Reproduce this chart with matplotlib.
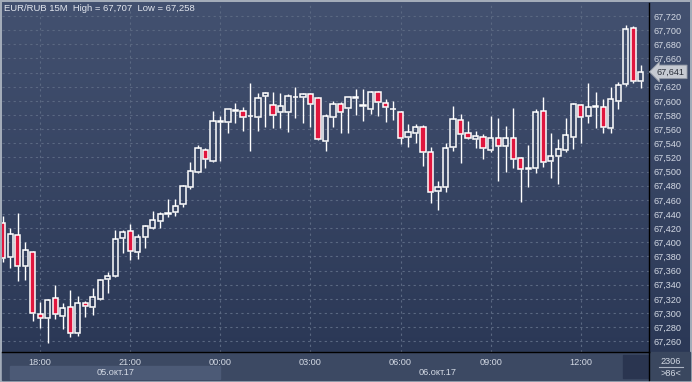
import matplotlib
matplotlib.use('Agg')
import matplotlib.pyplot as plt
import numpy as np
from matplotlib.patches import Rectangle
from matplotlib.lines import Line2D
from matplotlib.colors import LinearSegmentedColormap
from matplotlib.transforms import blended_transform_factory

# EUR/RUB 15M candles, 16:45 (05.10) .. 14:00 (06.10)
opens = [67.427, 67.379, 67.410, 67.366, 67.386, 67.299, 67.293, 67.321, 67.296, 67.308,
         67.272, 67.314, 67.308, 67.320, 67.348, 67.352, 67.406, 67.416, 67.386, 67.407,
         67.420, 67.430, 67.440, 67.443, 67.454, 67.478, 67.499, 67.530, 67.515, 67.570,
         67.570, 67.586, 67.586, 67.578, 67.577, 67.607, 67.594, 67.584, 67.584, 67.605,
         67.605, 67.610, 67.604, 67.543, 67.577, 67.596, 67.590, 67.604, 67.593, 67.588,
         67.613, 67.597, 67.588, 67.584, 67.549, 67.555, 67.563, 67.528, 67.473, 67.478,
         67.535, 67.573, 67.555, 67.546, 67.549, 67.530, 67.547, 67.536, 67.547, 67.519,
         67.504, 67.505, 67.586, 67.515, 67.522, 67.530, 67.549, 67.594, 67.579, 67.592,
         67.591, 67.562, 67.600, 67.624, 67.703, 67.628]
highs = [67.437, 67.420, 67.441, 67.400, 67.387, 67.316, 67.320, 67.340, 67.314, 67.333,
         67.324, 67.317, 67.335, 67.348, 67.358, 67.417, 67.417, 67.426, 67.412, 67.424,
         67.444, 67.443, 67.461, 67.461, 67.481, 67.514, 67.538, 67.533, 67.586, 67.579,
         67.589, 67.597, 67.591, 67.625, 67.611, 67.613, 67.613, 67.611, 67.610, 67.620,
         67.611, 67.611, 67.605, 67.581, 67.600, 67.598, 67.606, 67.617, 67.617, 67.614,
         67.614, 67.603, 67.600, 67.586, 67.567, 67.567, 67.566, 67.535, 67.487, 67.540,
         67.593, 67.581, 67.572, 67.557, 67.553, 67.579, 67.576, 67.564, 67.590, 67.520,
         67.538, 67.588, 67.605, 67.555, 67.546, 67.576, 67.597, 67.596, 67.625, 67.613,
         67.603, 67.620, 67.627, 67.707, 67.706, 67.651]
lows = [67.372, 67.364, 67.345, 67.347, 67.289, 67.279, 67.258, 67.292, 67.277, 67.266,
        67.267, 67.294, 67.297, 67.318, 67.328, 67.351, 67.385, 67.375, 67.376, 67.392,
        67.419, 67.420, 67.436, 67.437, 67.450, 67.475, 67.498, 67.505, 67.514, 67.515,
        67.555, 67.569, 67.557, 67.529, 67.557, 67.563, 67.562, 67.562, 67.556, 67.576,
        67.569, 67.563, 67.545, 67.529, 67.563, 67.555, 67.555, 67.580, 67.572, 67.581,
        67.579, 67.570, 67.573, 67.539, 67.535, 67.540, 67.508, 67.456, 67.446, 67.471,
        67.529, 67.512, 67.546, 67.533, 67.518, 67.528, 67.487, 67.499, 67.505, 67.457,
        67.478, 67.498, 67.506, 67.491, 67.482, 67.528, 67.532, 67.540, 67.569, 67.562,
        67.555, 67.555, 67.588, 67.621, 67.625, 67.618]
closes = [67.378, 67.412, 67.366, 67.389, 67.300, 67.293, 67.318, 67.299, 67.307, 67.272,
          67.314, 67.310, 67.323, 67.347, 67.352, 67.405, 67.415, 67.388, 67.407, 67.423,
          67.431, 67.440, 67.441, 67.451, 67.480, 67.501, 67.533, 67.518, 67.572, 67.571,
          67.588, 67.587, 67.577, 67.579, 67.604, 67.611, 67.580, 67.593, 67.607, 67.606,
          67.610, 67.596, 67.546, 67.579, 67.596, 67.584, 67.605, 67.605, 67.594, 67.613,
          67.598, 67.591, 67.589, 67.547, 67.556, 67.563, 67.528, 67.471, 67.478, 67.533,
          67.574, 67.553, 67.547, 67.550, 67.533, 67.547, 67.536, 67.547, 67.518, 67.504,
          67.505, 67.584, 67.514, 67.522, 67.532, 67.552, 67.596, 67.577, 67.591, 67.593,
          67.563, 67.603, 67.622, 67.702, 67.628, 67.641]

time_ticks = [5, 17, 29, 41, 53, 65, 77]
time_labels = ['18:00', '21:00', '00:00', '03:00', '06:00', '09:00', '12:00']
y_ticks = np.round(np.arange(67.26, 67.7201, 0.02), 3)
last_price = 67.641
title = 'EUR/RUB 15M  High = 67,707  Low = 67,258'

W, H = 692, 382
FONT = 'Liberation Sans'
TXT = '#d3d9e4'
RED = '#e0163e'

fig = plt.figure(figsize=(W / 100, H / 100), dpi=100, facecolor='#a3acb9')

def fx(px):
    return px / W

def fy(py):
    return 1 - py / H

# gradient background for plot + price scale
bg = fig.add_axes([fx(2), fy(352), fx(688), (352 - 2) / H])
cmap = LinearSegmentedColormap.from_list('bg', ['#435170', '#2b3856'])
bg.imshow(np.linspace(0, 1, 256).reshape(-1, 1), aspect='auto', cmap=cmap,
          extent=[0, 1, 0, 1], origin='upper')
bg.axis('off')

# bottom strips
fig.patches.append(Rectangle((fx(2), fy(380)), fx(647), 28 / H, transform=fig.transFigure,
                             color='#3c4963', zorder=0))
fig.patches.append(Rectangle((fx(10), fy(379)), fx(210), 13 / H, transform=fig.transFigure,
                             color='#4c5a76', zorder=0))
fig.patches.append(Rectangle((fx(623), fy(378)), fx(25), 23 / H, transform=fig.transFigure,
                             color='#2a3550', zorder=0))
fig.patches.append(Rectangle((fx(650), fy(380)), fx(40), 28 / H, transform=fig.transFigure,
                             color='#3a475f', zorder=0))

ax = fig.add_axes([fx(2), fy(352), fx(647), (352 - 3) / H])
ax.set_zorder(2)
ax.set_facecolor('none')
ax.set_xlim(-0.1, 86.1)
ax.set_ylim(67.2448, 67.7384)

for s in ['top', 'left']:
    ax.spines[s].set_visible(False)
for s in ['right', 'bottom']:
    ax.spines[s].set_color('black')
    ax.spines[s].set_linewidth(1)

ax.yaxis.tick_right()
ax.set_yticks(y_ticks)
ax.set_yticklabels(['' if abs(v - 67.64) < 1e-6 else f'{v:.3f}'.replace('.', ',') for v in y_ticks],
                   fontfamily=FONT)
ax.set_xticks(time_ticks)
ax.set_xticklabels(time_labels, fontfamily=FONT)
ax.tick_params(axis='y', length=0, pad=3, labelsize=6.6, labelcolor=TXT)
ax.tick_params(axis='x', length=0, pad=4, labelsize=6.6, labelcolor=TXT)
ax.grid(True, color='#5a6882', linestyle=(0, (2, 3)), linewidth=0.8)
ax.set_axisbelow(True)

# candles
for i, (o, h, l, c) in enumerate(zip(opens, highs, lows, closes)):
    up = c >= o
    top, bot = max(o, c), min(o, c)
    ax.vlines(i, top, h, color='white', lw=1, zorder=3)
    ax.vlines(i, l, bot, color='white', lw=1, zorder=3)
    ax.bar(i, max(top - bot, 0.0006), bottom=bot, width=0.7,
           facecolor='none' if up else RED, edgecolor='white', linewidth=1.1, zorder=4)

# current price tag
tr = blended_transform_factory(ax.transAxes, ax.transData)
ax.text(1.012, last_price, f'{last_price:.3f}'.replace('.', ','), transform=tr,
        ha='left', va='center', fontsize=6.6, color='#2a2f3a', fontfamily=FONT, zorder=10,
        bbox=dict(boxstyle='larrow,pad=0.25', fc='#c6cad2', ec='#8f96a3', lw=0.6))

# extend separator line below plot
fig.lines.append(Line2D([fx(649), fx(649)], [fy(352), fy(380)], transform=fig.transFigure,
                        color='black', lw=1, zorder=3))

fig.text(fx(4), fy(8.5), title, ha='left', va='center', fontsize=6.8, color='#e2e6ee',
         fontfamily=FONT, zorder=5)
fig.text(fx(116), fy(372.5), '05.окт.17', ha='center', va='center', fontsize=6.6,
         color=TXT, fontfamily=FONT, zorder=5)
fig.text(fx(438), fy(372.5), '06.окт.17', ha='center', va='center', fontsize=6.6,
         color=TXT, fontfamily=FONT, zorder=5)
fig.text(fx(671), fy(361), '2306', ha='center', va='center', fontsize=6.6, color=TXT,
         fontfamily=FONT, zorder=5)
fig.lines.append(Line2D([fx(659), fx(683)], [fy(366.5), fy(366.5)], transform=fig.transFigure,
                        color='#aab3c2', lw=0.8, zorder=5))
fig.text(fx(671), fy(373), '>86<', ha='center', va='center', fontsize=6.6, color=TXT,
         fontfamily=FONT, zorder=5)

fig.savefig('out.png', dpi=100, facecolor=fig.get_facecolor())
